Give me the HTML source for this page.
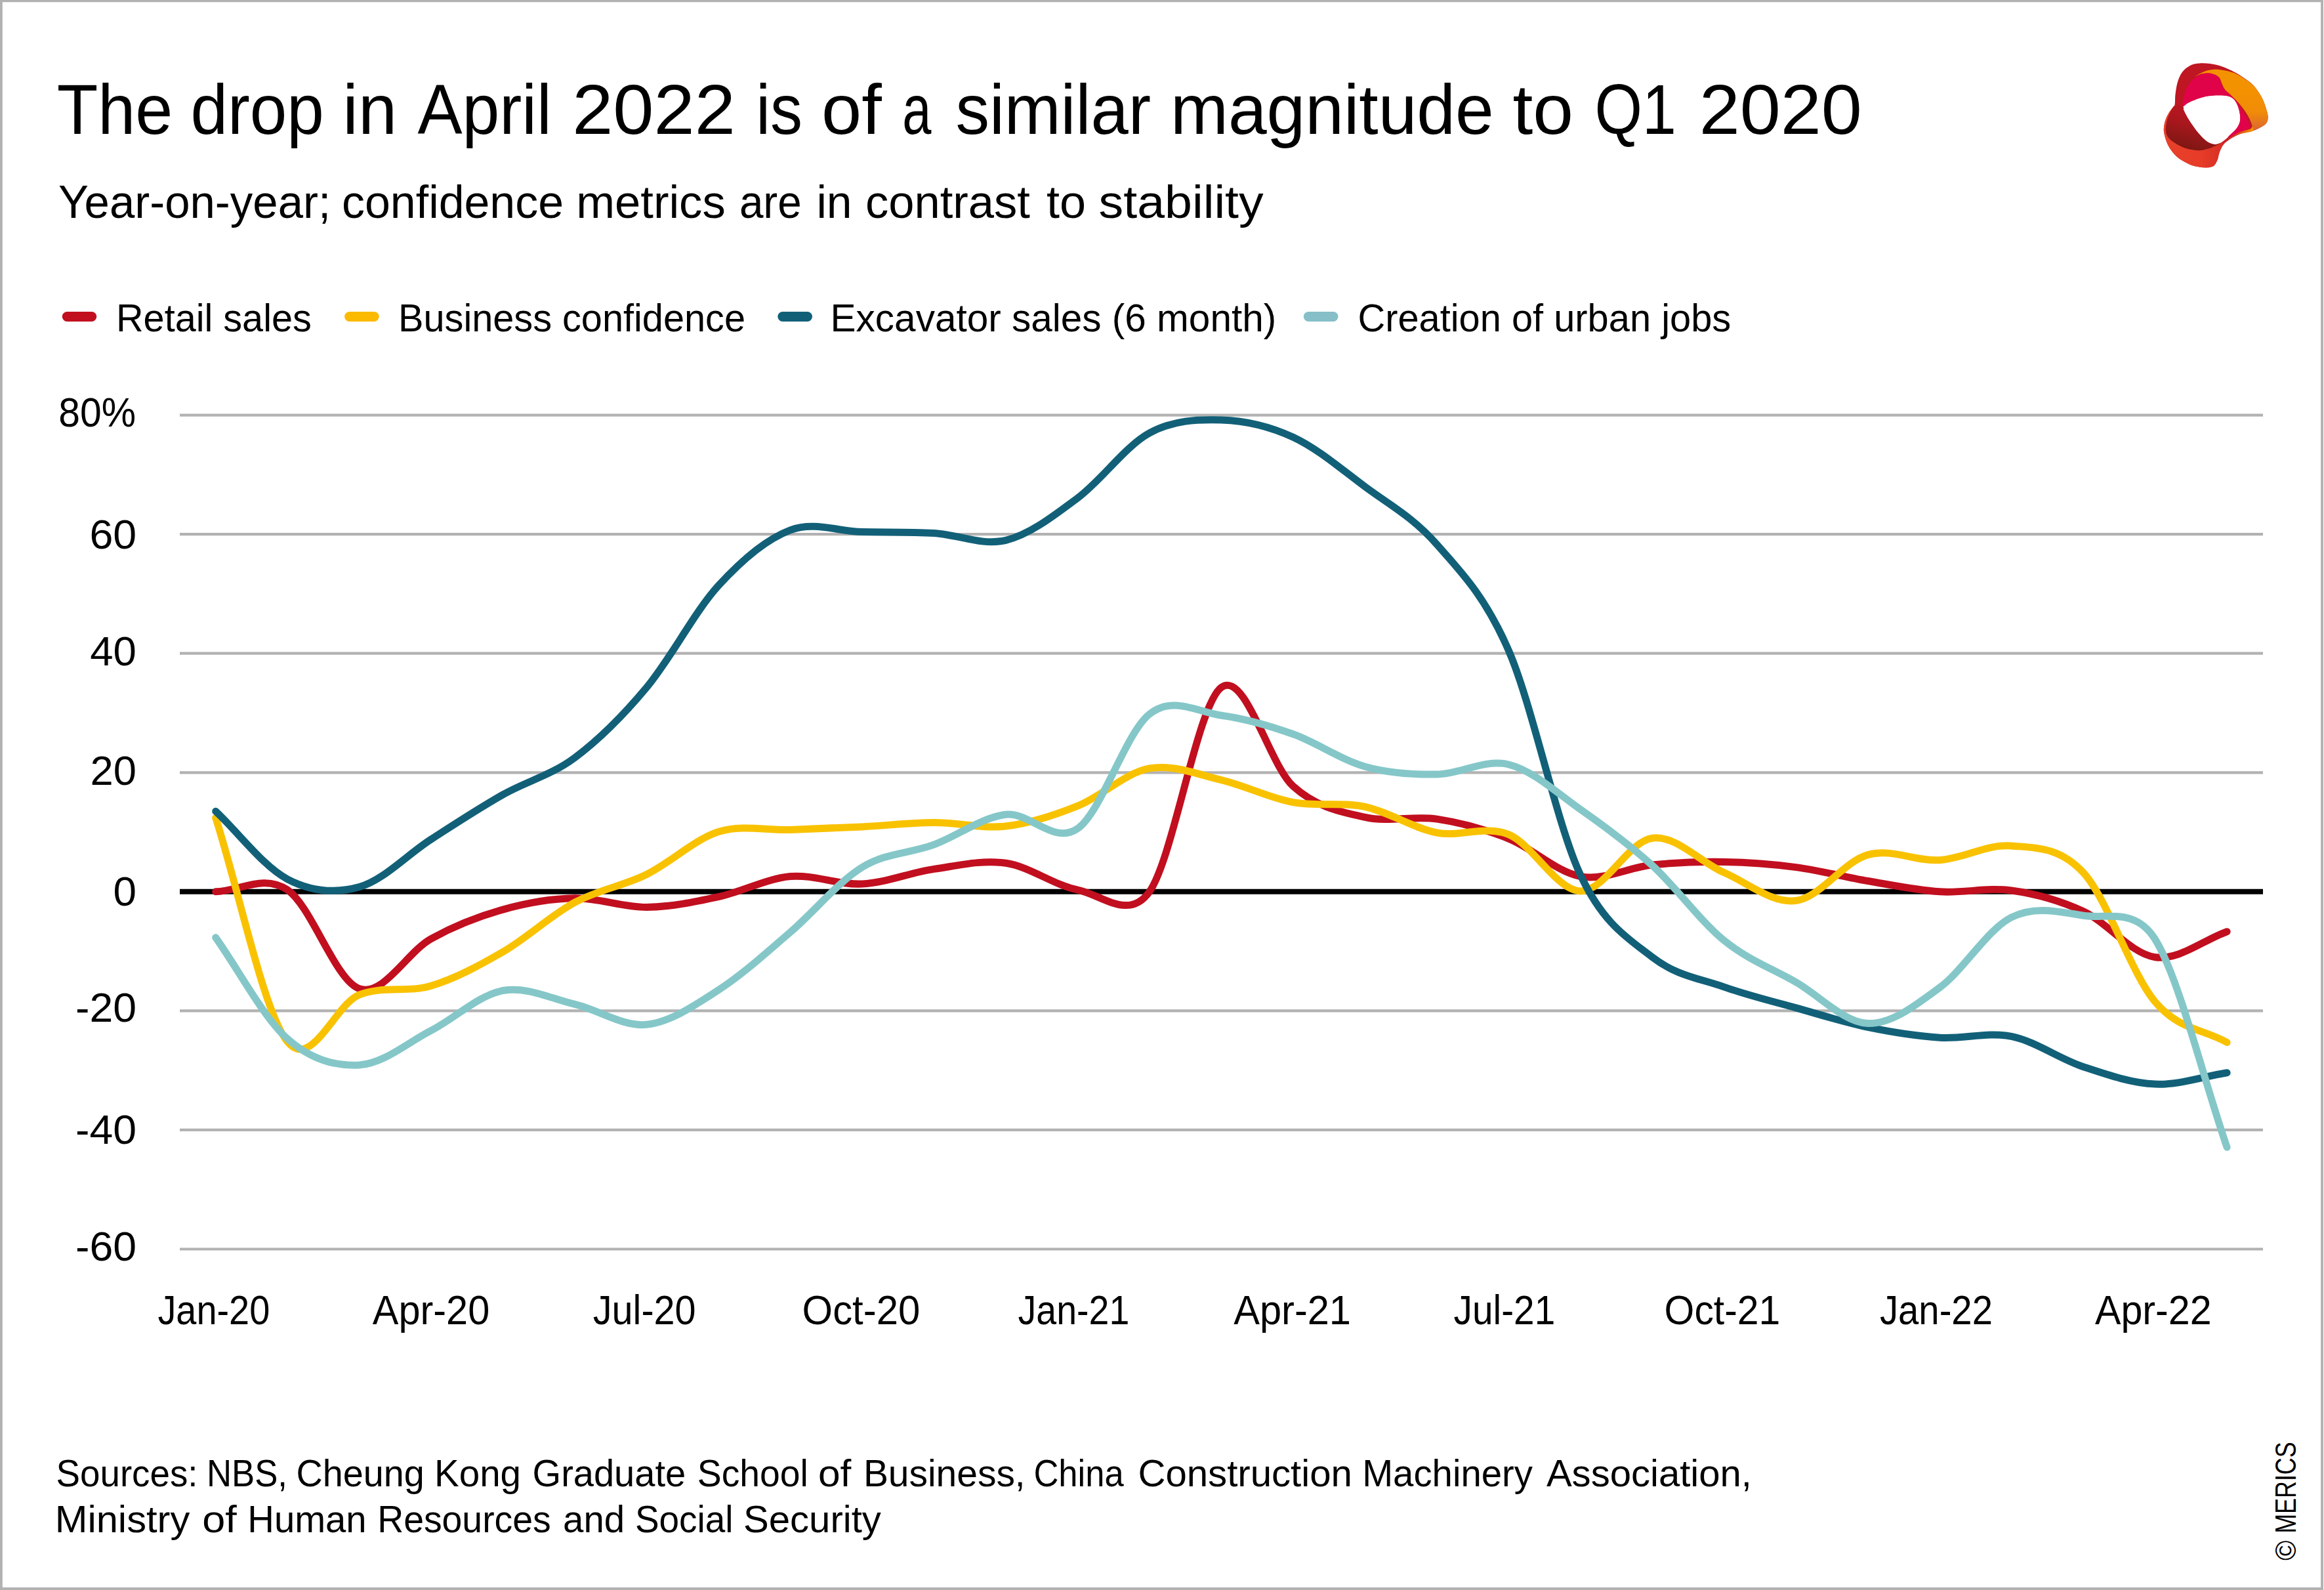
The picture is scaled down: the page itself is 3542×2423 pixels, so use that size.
<!DOCTYPE html>
<html lang="en"><head><meta charset="utf-8"><title>The drop in April 2022 is of a similar magnitude to Q1 2020</title>
<style>html,body{margin:0;padding:0;background:#fff}svg{display:block}text{font-family:"Liberation Sans",sans-serif;fill:#000}</style></head><body>
<svg width="3542" height="2423" viewBox="0 0 3542 2423">
<rect x="0" y="0" width="3542" height="2423" fill="#fff"/>
<path d="M0 0H3541V3.2H3.8V2419.1H3537.1V3.2H3541V2423H0Z" fill="#B2B2B2"/>
<defs>
<linearGradient id="gm" gradientUnits="userSpaceOnUse" x1="3352.5" y1="161.1" x2="3334.0" y2="229.8"><stop offset="0" stop-color="#BE1622"/><stop offset="0.45" stop-color="#A8171D"/><stop offset="1" stop-color="#7A1712"/></linearGradient>
<linearGradient id="go" gradientUnits="userSpaceOnUse" x1="0" y1="136.0" x2="0" y2="199.4"><stop offset="0" stop-color="#F39200"/><stop offset="0.55" stop-color="#F08C08"/><stop offset="1" stop-color="#DC6432"/></linearGradient>
<linearGradient id="gb" gradientUnits="userSpaceOnUse" x1="3299.6" y1="0" x2="3392.1" y2="0"><stop offset="0" stop-color="#E8402A"/><stop offset="0.6" stop-color="#E63C28"/><stop offset="1" stop-color="#D42E24"/></linearGradient>
<linearGradient id="gs" gradientUnits="userSpaceOnUse" x1="3386.8" y1="0" x2="3432.5" y2="0"><stop offset="0" stop-color="#C4142B"/><stop offset="0.45" stop-color="#D8401E"/><stop offset="1" stop-color="#F39200"/></linearGradient>
</defs>
<path d="M3352.46 96.42C3357.30 96.04 3362.81 96.31 3368.31 97.08C3373.81 97.85 3379.32 98.95 3385.48 101.04C3391.65 103.13 3399.35 106.54 3405.29 109.63C3411.24 112.71 3416.30 116.12 3421.14 119.53C3425.99 122.94 3429.95 125.15 3434.35 130.10C3438.76 135.05 3444.15 142.76 3447.56 149.25C3450.97 155.75 3453.33 164.00 3454.83 169.06C3456.32 174.13 3456.65 176.55 3456.54 179.63C3456.43 182.71 3455.66 185.35 3454.17 187.56C3452.67 189.76 3451.04 190.84 3447.56 192.84C3444.08 194.84 3438.91 197.68 3433.30 199.58C3427.68 201.47 3419.69 202.13 3413.88 204.20C3408.07 206.27 3402.54 209.39 3398.43 211.99C3394.31 214.59 3391.76 216.57 3389.18 219.79C3386.60 223.00 3384.53 227.42 3382.97 231.28C3381.41 235.13 3381.10 239.53 3379.80 242.90C3378.50 246.27 3376.87 249.55 3375.18 251.49C3373.48 253.42 3372.21 253.89 3369.63 254.52C3367.06 255.16 3363.95 255.56 3359.72 255.32C3355.50 255.07 3348.78 254.24 3344.27 253.07C3339.76 251.90 3336.52 250.25 3332.65 248.32C3328.77 246.38 3324.33 243.87 3321.02 241.45C3317.72 239.03 3315.41 236.76 3312.83 233.79C3310.26 230.81 3307.55 227.14 3305.57 223.62C3303.59 220.09 3302.22 216.57 3300.95 212.65C3299.67 208.73 3298.30 203.85 3297.91 200.10C3297.51 196.36 3297.95 193.61 3298.57 190.20C3299.19 186.79 3300.11 183.15 3301.61 179.63C3303.10 176.11 3305.46 172.15 3307.55 169.06C3309.64 165.98 3312.83 165.32 3314.16 161.14C3315.48 156.96 3314.71 149.91 3315.48 143.97C3316.25 138.02 3317.02 131.20 3318.78 125.48C3320.54 119.75 3322.63 113.98 3326.04 109.63C3329.46 105.27 3334.85 101.52 3339.25 99.32C3343.65 97.12 3347.62 96.79 3352.46 96.42Z M3326.70 161.80C3327.80 159.71 3332.10 158.17 3335.29 156.52C3338.48 154.87 3340.79 153.59 3345.86 151.89C3350.92 150.20 3359.06 147.45 3365.67 146.35C3372.27 145.24 3379.76 145.02 3385.48 145.29C3391.21 145.55 3396.27 146.17 3400.01 147.93C3403.75 149.69 3405.73 152.11 3407.94 155.86C3410.14 159.60 3412.23 165.54 3413.22 170.39C3414.21 175.23 3414.76 180.51 3413.88 184.91C3413.00 189.32 3410.91 192.84 3407.94 196.80C3404.96 200.76 3400.01 205.17 3396.05 208.69C3392.09 212.21 3387.68 216.06 3384.16 217.94C3380.64 219.81 3378.44 220.36 3374.91 219.92C3371.39 219.48 3367.21 218.27 3363.03 215.29C3358.84 212.32 3354.22 207.37 3349.82 202.09C3345.42 196.80 3340.13 189.10 3336.61 183.59C3333.09 178.09 3330.34 172.70 3328.68 169.06C3327.03 165.43 3325.60 163.89 3326.70 161.80Z" fill="#BE1622" fill-rule="evenodd"/>
<path d="M3314.16 161.14C3314.49 160.04 3309.64 165.98 3307.55 169.06C3305.46 172.15 3303.10 176.11 3301.61 179.63C3300.11 183.15 3299.19 186.79 3298.57 190.20C3297.95 193.61 3297.51 196.36 3297.91 200.10C3298.30 203.85 3299.67 208.73 3300.95 212.65C3302.22 216.57 3303.59 220.09 3305.57 223.62C3307.55 227.14 3310.26 230.81 3312.83 233.79C3315.41 236.76 3317.72 239.03 3321.02 241.45C3324.33 243.87 3328.77 246.38 3332.65 248.32C3336.52 250.25 3339.76 251.90 3344.27 253.07C3348.78 254.24 3355.50 255.07 3359.72 255.32C3363.95 255.56 3367.06 255.16 3369.63 254.52C3372.21 253.89 3373.48 253.42 3375.18 251.49C3376.87 249.55 3378.50 246.27 3379.80 242.90C3381.10 239.53 3381.41 235.13 3382.97 231.28C3384.53 227.42 3386.60 223.00 3389.18 219.79C3391.76 216.57 3399.26 212.30 3398.43 211.99C3397.59 211.68 3387.86 216.24 3384.16 217.94C3380.46 219.63 3379.32 220.73 3376.24 222.16C3373.15 223.59 3369.63 225.35 3365.67 226.52C3361.71 227.69 3356.86 228.94 3352.46 229.16C3348.06 229.38 3343.65 228.72 3339.25 227.84C3334.85 226.96 3330.45 225.75 3326.04 223.88C3321.64 222.01 3316.47 219.15 3312.83 216.62C3309.20 214.08 3306.23 211.55 3304.25 208.69C3302.27 205.83 3301.39 202.75 3300.95 199.44C3300.51 196.14 3300.84 192.84 3301.61 188.88C3302.38 184.91 3303.48 180.29 3305.57 175.67C3307.66 171.05 3313.82 162.24 3314.16 161.14Z" fill="url(#gb)"/>
<path d="M3314.16 161.14C3317.68 158.83 3324.28 160.48 3326.70 161.80C3329.12 163.12 3327.03 165.43 3328.68 169.06C3330.34 172.70 3333.09 178.09 3336.61 183.59C3340.13 189.10 3345.42 196.80 3349.82 202.09C3354.22 207.37 3358.84 212.32 3363.03 215.29C3367.21 218.27 3371.39 219.48 3374.91 219.92C3378.44 220.36 3383.94 217.56 3384.16 217.94C3384.38 218.31 3379.32 220.73 3376.24 222.16C3373.15 223.59 3369.63 225.35 3365.67 226.52C3361.71 227.69 3356.86 228.94 3352.46 229.16C3348.06 229.38 3343.65 228.72 3339.25 227.84C3334.85 226.96 3330.45 225.75 3326.04 223.88C3321.64 222.01 3316.47 219.15 3312.83 216.62C3309.20 214.08 3306.23 211.55 3304.25 208.69C3302.27 205.83 3301.39 202.75 3300.95 199.44C3300.51 196.14 3300.84 192.84 3301.61 188.88C3302.38 184.91 3303.48 180.29 3305.57 175.67C3307.66 171.05 3310.63 163.45 3314.16 161.14Z" fill="url(#gm)"/>
<path d="M3326.70 161.80C3325.60 159.93 3327.25 150.68 3328.68 145.29C3330.12 139.90 3332.43 133.95 3335.29 129.44C3338.15 124.93 3341.89 121.18 3345.86 118.21C3349.82 115.24 3354.66 112.64 3359.06 111.61C3363.47 110.57 3368.64 111.12 3372.27 112.00C3375.91 112.88 3378.77 114.65 3380.86 116.89C3382.95 119.14 3383.50 122.50 3384.82 125.48C3386.14 128.45 3386.69 131.86 3388.78 134.72C3390.88 137.58 3394.62 140.23 3397.37 142.65C3400.12 145.07 3402.21 145.51 3405.29 149.25C3408.38 152.99 3412.56 159.82 3415.86 165.10C3419.16 170.39 3422.80 176.33 3425.11 180.95C3427.42 185.58 3429.95 190.09 3429.73 192.84C3429.51 195.59 3426.76 195.70 3423.79 197.46C3420.81 199.22 3416.52 201.54 3411.90 203.41C3407.28 205.28 3396.71 209.79 3396.05 208.69C3395.39 207.59 3404.96 200.76 3407.94 196.80C3410.91 192.84 3413.00 189.32 3413.88 184.91C3414.76 180.51 3414.21 175.23 3413.22 170.39C3412.23 165.54 3410.14 159.60 3407.94 155.86C3405.73 152.11 3403.75 149.69 3400.01 147.93C3396.27 146.17 3391.21 145.55 3385.48 145.29C3379.76 145.02 3372.27 145.24 3365.67 146.35C3359.06 147.45 3350.92 150.20 3345.86 151.89C3340.79 153.59 3338.48 154.87 3335.29 156.52C3332.10 158.17 3327.80 163.67 3326.70 161.80Z" fill="#E00349"/>
<path d="M3344.53 116.89C3345.20 116.34 3354.44 111.03 3359.06 109.23C3363.69 107.42 3367.87 106.52 3372.27 106.06C3376.68 105.60 3379.98 105.60 3385.48 106.46C3390.99 107.31 3399.35 108.92 3405.29 111.21C3411.24 113.50 3416.30 117.04 3421.14 120.19C3425.99 123.34 3429.95 125.26 3434.35 130.10C3438.76 134.94 3444.15 142.76 3447.56 149.25C3450.97 155.75 3453.33 164.00 3454.83 169.06C3456.32 174.13 3456.65 176.55 3456.54 179.63C3456.43 182.71 3455.66 185.35 3454.17 187.56C3452.67 189.76 3451.08 190.97 3447.56 192.84C3444.04 194.71 3435.56 199.00 3433.03 198.78C3430.50 198.56 3433.25 194.71 3432.37 191.52C3431.49 188.33 3430.06 184.03 3427.75 179.63C3425.44 175.23 3421.81 169.61 3418.50 165.10C3415.20 160.59 3411.02 155.97 3407.94 152.55C3404.85 149.14 3402.87 147.38 3400.01 144.63C3397.15 141.88 3393.08 139.01 3390.76 136.04C3388.45 133.07 3387.46 129.66 3386.14 126.80C3384.82 123.94 3384.49 121.03 3382.84 118.87C3381.19 116.71 3379.10 115.13 3376.24 113.85C3373.37 112.58 3369.19 111.43 3365.67 111.21C3362.15 110.99 3358.62 111.59 3355.10 112.53C3351.58 113.48 3343.87 117.44 3344.53 116.89Z" fill="url(#go)"/>
<path d="M3386.80 218.99C3388.19 218.46 3393.91 214.57 3398.43 212.12C3402.94 209.68 3408.07 206.40 3413.88 204.33C3419.69 202.26 3430.19 201.54 3433.30 199.71C3436.40 197.88 3433.14 193.92 3432.50 193.37C3431.87 192.82 3432.57 195.11 3429.47 196.41C3426.36 197.71 3418.41 199.33 3413.88 201.16C3409.35 202.99 3406.22 205.01 3402.26 207.37C3398.29 209.72 3392.68 213.36 3390.10 215.29C3387.53 217.23 3385.42 219.52 3386.80 218.99Z" fill="url(#gs)"/>
<line x1="102.2" y1="482.5" x2="139.8" y2="482.5" stroke="#C10F1F" stroke-width="14.8" stroke-linecap="round"/>
<line x1="532.5" y1="482.5" x2="570.3" y2="482.5" stroke="#FBBA00" stroke-width="14.8" stroke-linecap="round"/>
<line x1="1192.7" y1="482.5" x2="1230.6" y2="482.5" stroke="#126078" stroke-width="14.8" stroke-linecap="round"/>
<line x1="1994.2" y1="482.5" x2="2032.1" y2="482.5" stroke="#86BFC8" stroke-width="14.8" stroke-linecap="round"/>
<line x1="274" x2="3449" y1="632.6" y2="632.6" stroke="#B2B2B2" stroke-width="4.2"/>
<line x1="274" x2="3449" y1="814.2" y2="814.2" stroke="#B2B2B2" stroke-width="4.2"/>
<line x1="274" x2="3449" y1="995.7" y2="995.7" stroke="#B2B2B2" stroke-width="4.2"/>
<line x1="274" x2="3449" y1="1177.3" y2="1177.3" stroke="#B2B2B2" stroke-width="4.2"/>
<line x1="274" x2="3449" y1="1540.4" y2="1540.4" stroke="#B2B2B2" stroke-width="4.2"/>
<line x1="274" x2="3449" y1="1721.9" y2="1721.9" stroke="#B2B2B2" stroke-width="4.2"/>
<line x1="274" x2="3449" y1="1903.5" y2="1903.5" stroke="#B2B2B2" stroke-width="4.2"/>
<line x1="274" x2="3449" y1="1358.8" y2="1358.8" stroke="#000" stroke-width="8.1"/>
<path d="M328.7 1358.8C365.2 1357.9 401.7 1331.5 438.2 1356.1C474.7 1380.8 511.2 1494.4 547.7 1506.8C584.2 1519.2 620.6 1450.7 657.1 1430.6C693.6 1410.4 730.1 1396.4 766.6 1386.1C803.1 1375.8 839.6 1369.4 876.1 1368.8C912.6 1368.2 949.1 1382.8 985.6 1382.5C1022.1 1382.1 1058.6 1374.4 1095.1 1366.6C1131.6 1358.8 1168.0 1338.9 1204.5 1335.6C1241.0 1332.4 1277.5 1348.9 1314.0 1347.0C1350.5 1345.2 1387.0 1329.7 1423.5 1324.4C1460.0 1319.1 1496.5 1310.0 1533.0 1315.3C1569.5 1320.6 1606.0 1348.9 1642.5 1356.1C1679.0 1363.4 1720.3 1403.5 1751.9 1358.8C1788.4 1307.4 1824.9 1074.3 1861.4 1047.5C1897.9 1020.7 1934.4 1165.2 1970.9 1198.2C2007.4 1231.2 2043.9 1237.1 2080.4 1245.4C2116.9 1253.7 2153.4 1242.7 2189.9 1248.1C2226.4 1253.6 2262.8 1263.5 2299.3 1278.1C2335.8 1292.6 2372.3 1329.0 2408.8 1335.6C2445.3 1342.3 2481.8 1321.7 2518.3 1318.0C2554.8 1314.3 2591.3 1312.9 2627.8 1313.5C2664.3 1314.1 2700.8 1316.8 2737.3 1321.6C2773.8 1326.5 2810.2 1336.3 2846.7 1342.5C2883.2 1348.7 2919.7 1356.4 2956.2 1358.8C2992.7 1361.3 3029.2 1352.0 3065.7 1357.0C3102.2 1362.0 3138.7 1371.9 3175.2 1388.8C3211.7 1405.8 3248.2 1453.6 3284.7 1458.7C3321.2 1463.8 3357.6 1432.7 3394.1 1419.7" fill="none" stroke="#C10F1F" stroke-width="11" stroke-linecap="round" stroke-linejoin="round"/>
<path d="M328.7 1246.3C365.2 1360.1 401.7 1542.7 438.2 1587.6C474.7 1632.5 511.2 1530.1 547.7 1515.9C584.2 1501.7 620.6 1513.2 657.1 1502.3C693.6 1491.4 730.1 1471.7 766.6 1450.5C803.1 1429.4 839.6 1394.9 876.1 1375.2C912.6 1355.5 949.1 1350.5 985.6 1332.5C1022.1 1314.6 1058.6 1279.0 1095.1 1267.6C1131.6 1256.3 1168.0 1265.7 1204.5 1264.4C1241.0 1263.2 1277.5 1261.7 1314.0 1259.9C1350.5 1258.1 1387.0 1253.7 1423.5 1253.6C1460.0 1253.4 1496.5 1263.2 1533.0 1259.0C1569.5 1254.8 1606.0 1242.8 1642.5 1228.1C1679.0 1213.5 1715.4 1177.5 1751.9 1170.9C1788.4 1164.4 1824.9 1180.0 1861.4 1188.6C1897.9 1197.3 1934.4 1215.9 1970.9 1222.7C2007.4 1229.5 2043.9 1221.8 2080.4 1229.5C2116.9 1237.2 2153.4 1261.9 2189.9 1269.0C2226.4 1276.0 2262.8 1256.9 2299.3 1271.7C2335.8 1286.5 2372.3 1357.0 2408.8 1357.9C2445.3 1358.8 2481.8 1281.8 2518.3 1277.2C2554.8 1272.5 2591.3 1313.9 2627.8 1329.8C2664.3 1345.7 2700.8 1377.0 2737.3 1372.5C2773.8 1367.9 2810.2 1312.9 2846.7 1302.6C2883.2 1292.3 2919.7 1313.0 2956.2 1310.7C2992.7 1308.5 3029.2 1285.8 3065.7 1289.0C3102.2 1292.1 3138.7 1290.2 3175.2 1329.8C3211.7 1369.4 3248.2 1483.7 3284.7 1526.8C3321.2 1569.9 3357.6 1567.9 3394.1 1588.5" fill="none" stroke="#F9C200" stroke-width="11" stroke-linecap="round" stroke-linejoin="round"/>
<path d="M328.7 1236.3C365.2 1270.8 401.7 1320.6 438.2 1339.8C474.7 1359.0 511.2 1361.7 547.7 1351.6C584.2 1341.5 620.6 1302.4 657.1 1279.0C693.6 1255.5 730.1 1231.6 766.6 1210.9C803.1 1190.2 839.6 1181.8 876.1 1154.6C912.6 1127.4 949.1 1091.2 985.6 1047.5C1022.1 1003.8 1058.6 932.2 1095.1 892.3C1131.6 852.3 1168.0 821.5 1204.5 807.8C1241.0 794.2 1277.5 809.8 1314.0 810.6C1350.5 811.3 1387.0 810.3 1423.5 812.4C1460.0 814.5 1496.5 832.2 1533.0 823.3C1569.5 814.4 1606.0 786.1 1642.5 758.8C1679.0 731.6 1715.4 679.7 1751.9 659.9C1788.4 640.1 1824.9 638.9 1861.4 639.9C1897.9 641.0 1934.4 649.3 1970.9 666.2C2007.4 683.2 2043.9 714.3 2080.4 741.6C2116.9 768.8 2153.4 788.0 2189.9 829.6C2226.4 871.2 2262.8 907.2 2299.3 991.2C2335.8 1075.2 2372.3 1255.5 2408.8 1333.4C2444.1 1408.8 2481.8 1430.3 2518.3 1458.7C2554.8 1487.1 2591.3 1491.2 2627.8 1504.1C2664.3 1516.9 2700.8 1525.6 2737.3 1535.9C2773.8 1546.1 2810.2 1557.8 2846.7 1565.4C2883.2 1572.9 2919.7 1578.9 2956.2 1581.2C2992.7 1583.6 3029.2 1572.0 3065.7 1579.4C3102.2 1586.8 3138.7 1613.6 3175.2 1625.7C3211.7 1637.8 3248.2 1650.5 3284.7 1652.1C3321.2 1653.6 3357.6 1640.6 3394.1 1634.8" fill="none" stroke="#126078" stroke-width="11" stroke-linecap="round" stroke-linejoin="round"/>
<path d="M328.7 1428.7C365.2 1480.2 401.7 1550.7 438.2 1583.1C474.7 1615.4 511.2 1625.1 547.7 1623.0C584.2 1620.9 620.6 1589.3 657.1 1570.4C693.6 1551.4 730.1 1516.2 766.6 1509.5C803.1 1502.9 839.6 1521.8 876.1 1530.4C912.6 1539.0 949.1 1564.9 985.6 1561.3C1022.1 1557.6 1058.6 1532.1 1095.1 1508.6C1131.6 1485.2 1168.0 1451.7 1204.5 1420.6C1241.0 1389.4 1277.5 1343.9 1314.0 1321.6C1350.5 1299.4 1387.0 1300.5 1423.5 1287.1C1460.0 1273.7 1496.5 1245.4 1533.0 1241.3C1569.5 1237.2 1606.0 1288.1 1642.5 1262.6C1679.0 1237.1 1715.4 1117.1 1751.9 1088.3C1788.4 1059.6 1824.9 1085.1 1861.4 1090.2C1897.9 1095.2 1934.4 1105.7 1970.9 1118.8C2007.4 1131.8 2043.9 1158.0 2080.4 1168.2C2116.9 1178.4 2153.4 1180.6 2189.9 1180.0C2226.4 1179.5 2262.8 1156.1 2299.3 1165.0C2335.8 1174.0 2372.3 1207.9 2408.8 1233.6C2445.3 1259.2 2481.8 1285.6 2518.3 1318.9C2554.8 1352.2 2591.3 1403.6 2627.8 1433.3C2664.3 1462.9 2700.8 1475.8 2737.3 1496.8C2773.8 1517.9 2810.2 1558.1 2846.7 1559.5C2883.2 1560.8 2919.7 1531.9 2956.2 1505.0C2992.7 1478.1 3029.2 1416.2 3065.7 1397.9C3102.2 1379.6 3138.7 1389.6 3175.2 1395.2C3211.7 1400.8 3254.3 1382.5 3284.7 1431.5C3321.2 1490.3 3357.6 1642.7 3394.1 1748.3" fill="none" stroke="#85C7C8" stroke-width="11" stroke-linecap="round" stroke-linejoin="round"/>
<text id="title" y="204.0" font-size="107"><tspan x="86.7" textLength="176.6" lengthAdjust="spacingAndGlyphs">The</tspan> <tspan x="290.4" textLength="203.3" lengthAdjust="spacingAndGlyphs">drop</tspan> <tspan x="522.3" textLength="82.7" lengthAdjust="spacingAndGlyphs">in</tspan> <tspan x="636.4" textLength="204.2" lengthAdjust="spacingAndGlyphs">April</tspan> <tspan x="872.2" textLength="248.6" lengthAdjust="spacingAndGlyphs">2022</tspan> <tspan x="1152.2" textLength="70.7" lengthAdjust="spacingAndGlyphs">is</tspan> <tspan x="1252.1" textLength="91.7" lengthAdjust="spacingAndGlyphs">of</tspan> <tspan x="1375.3" textLength="44.2" lengthAdjust="spacingAndGlyphs">a</tspan> <tspan x="1456.4" textLength="297.6" lengthAdjust="spacingAndGlyphs">similar</tspan> <tspan x="1784.0" textLength="492.7" lengthAdjust="spacingAndGlyphs">magnitude</tspan> <tspan x="2305.5" textLength="92.6" lengthAdjust="spacingAndGlyphs">to</tspan> <tspan x="2430.5" textLength="124.4" lengthAdjust="spacingAndGlyphs">Q1</tspan> <tspan x="2589.7" textLength="248.2" lengthAdjust="spacingAndGlyphs">2020</tspan></text>
<text id="sub" y="332.3" font-size="71"><tspan x="88.9" textLength="415.2" lengthAdjust="spacingAndGlyphs">Year-on-year;</tspan> <tspan x="521.1" textLength="337.9" lengthAdjust="spacingAndGlyphs">confidence</tspan> <tspan x="878.2" textLength="227.5" lengthAdjust="spacingAndGlyphs">metrics</tspan> <tspan x="1126.9" textLength="94.8" lengthAdjust="spacingAndGlyphs">are</tspan> <tspan x="1244.4" textLength="54.2" lengthAdjust="spacingAndGlyphs">in</tspan> <tspan x="1319.1" textLength="250.8" lengthAdjust="spacingAndGlyphs">contrast</tspan> <tspan x="1595.0" textLength="60.1" lengthAdjust="spacingAndGlyphs">to</tspan> <tspan x="1674.6" textLength="251.1" lengthAdjust="spacingAndGlyphs">stability</tspan></text>
<text id="leg1" x="177.0" y="504.7" font-size="59" textLength="297.8" lengthAdjust="spacingAndGlyphs">Retail sales</text>
<text id="leg2" x="607.0" y="504.7" font-size="59" textLength="529.0" lengthAdjust="spacingAndGlyphs">Business confidence</text>
<text id="leg3" x="1265.6" y="504.7" font-size="59" textLength="679.6" lengthAdjust="spacingAndGlyphs">Excavator sales (6 month)</text>
<text id="leg4" x="2069.4" y="504.7" font-size="59" textLength="568.8" lengthAdjust="spacingAndGlyphs">Creation of urban jobs</text>
<text id="y80p" x="89.3" y="649.8" font-size="63" textLength="117.7" lengthAdjust="spacingAndGlyphs">80%</text>
<text id="y60" x="136.4" y="835.5" font-size="63" textLength="71.7" lengthAdjust="spacingAndGlyphs">60</text>
<text id="y40" x="137.2" y="1013.9" font-size="63" textLength="70.7" lengthAdjust="spacingAndGlyphs">40</text>
<text id="y20" x="137.6" y="1195.6" font-size="63" textLength="70.4" lengthAdjust="spacingAndGlyphs">20</text>
<text id="y0" x="172.4" y="1380.0" font-size="63" textLength="35.5" lengthAdjust="spacingAndGlyphs">0</text>
<text id="y-20" x="115.0" y="1557.1" font-size="63" textLength="93.0" lengthAdjust="spacingAndGlyphs">-20</text>
<text id="y-40" x="115.0" y="1743.1" font-size="63" textLength="93.0" lengthAdjust="spacingAndGlyphs">-40</text>
<text id="y-60" x="115.0" y="1920.9" font-size="63" textLength="93.0" lengthAdjust="spacingAndGlyphs">-60</text>
<text id="xJan-20" x="240.4" y="2017.6" font-size="63" textLength="170.9" lengthAdjust="spacingAndGlyphs">Jan-20</text>
<text id="xApr-20" x="567.8" y="2017.6" font-size="63" textLength="178.4" lengthAdjust="spacingAndGlyphs">Apr-20</text>
<text id="xJul-20" x="903.8" y="2017.6" font-size="63" textLength="156.8" lengthAdjust="spacingAndGlyphs">Jul-20</text>
<text id="xOct-20" x="1222.6" y="2017.6" font-size="63" textLength="179.6" lengthAdjust="spacingAndGlyphs">Oct-20</text>
<text id="xJan-21" x="1551.6" y="2017.6" font-size="63" textLength="169.7" lengthAdjust="spacingAndGlyphs">Jan-21</text>
<text id="xApr-21" x="1880.2" y="2017.6" font-size="63" textLength="178.8" lengthAdjust="spacingAndGlyphs">Apr-21</text>
<text id="xJul-21" x="2215.6" y="2017.6" font-size="63" textLength="154.7" lengthAdjust="spacingAndGlyphs">Jul-21</text>
<text id="xOct-21" x="2536.6" y="2017.6" font-size="63" textLength="176.7" lengthAdjust="spacingAndGlyphs">Oct-21</text>
<text id="xJan-22" x="2865.0" y="2017.6" font-size="63" textLength="171.9" lengthAdjust="spacingAndGlyphs">Jan-22</text>
<text id="xApr-22" x="3193.0" y="2017.6" font-size="63" textLength="177.6" lengthAdjust="spacingAndGlyphs">Apr-22</text>
<text id="src1" y="2264.6" font-size="58.2"><tspan x="85.5" textLength="216.0" lengthAdjust="spacingAndGlyphs">Sources:</tspan> <tspan x="314.9" textLength="123.1" lengthAdjust="spacingAndGlyphs">NBS,</tspan> <tspan x="451.6" textLength="195.2" lengthAdjust="spacingAndGlyphs">Cheung</tspan> <tspan x="662.1" textLength="131.9" lengthAdjust="spacingAndGlyphs">Kong</tspan> <tspan x="811.6" textLength="233.5" lengthAdjust="spacingAndGlyphs">Graduate</tspan> <tspan x="1062.8" textLength="169.1" lengthAdjust="spacingAndGlyphs">School</tspan> <tspan x="1246.9" textLength="50.4" lengthAdjust="spacingAndGlyphs">of</tspan> <tspan x="1315.9" textLength="246.8" lengthAdjust="spacingAndGlyphs">Business,</tspan> <tspan x="1575.4" textLength="137.3" lengthAdjust="spacingAndGlyphs">China</tspan> <tspan x="1734.4" textLength="326.5" lengthAdjust="spacingAndGlyphs">Construction</tspan> <tspan x="2076.2" textLength="259.8" lengthAdjust="spacingAndGlyphs">Machinery</tspan> <tspan x="2356.9" textLength="313.1" lengthAdjust="spacingAndGlyphs">Association,</tspan></text>
<text id="src2" y="2334.8" font-size="58.2"><tspan x="83.7" textLength="205.6" lengthAdjust="spacingAndGlyphs">Ministry</tspan> <tspan x="308.3" textLength="52.5" lengthAdjust="spacingAndGlyphs">of</tspan> <tspan x="377.3" textLength="181.3" lengthAdjust="spacingAndGlyphs">Human</tspan> <tspan x="575.2" textLength="264.5" lengthAdjust="spacingAndGlyphs">Resources</tspan> <tspan x="858.1" textLength="94.1" lengthAdjust="spacingAndGlyphs">and</tspan> <tspan x="967.9" textLength="149.5" lengthAdjust="spacingAndGlyphs">Social</tspan> <tspan x="1133.1" textLength="209.7" lengthAdjust="spacingAndGlyphs">Security</tspan></text>
<text transform="translate(3499,2378) rotate(-90)" font-size="44"><tspan x="0" textLength="30.5" lengthAdjust="spacingAndGlyphs">©</tspan> <tspan x="41.2" textLength="139.5" lengthAdjust="spacingAndGlyphs">MERICS</tspan></text>
</svg></body></html>
